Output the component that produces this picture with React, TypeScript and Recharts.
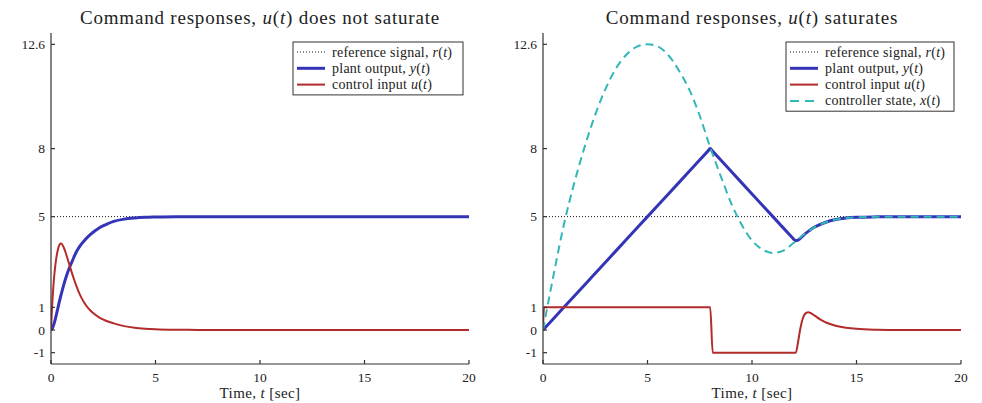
import React from 'react';
import { LineChart, Line, XAxis, YAxis } from 'recharts';

// axis ticks
const xTicks = [0, 5, 10, 15, 20];
const yTicks = [-1, 0, 1, 5, 8, 12.6];

// reference signal r(t)
const refTime = [0, 20];
const refSignal = [5, 5];

// left panel: u(t) does not saturate
const leftTime = [
  0, 0.05, 0.1, 0.15, 0.2, 0.25, 0.3, 0.35, 0.4, 0.45, 0.5, 0.6, 0.7, 0.8, 0.9, 1.0, 1.1, 1.2, 1.3, 1.4,
  1.5, 1.6, 1.8, 2.0, 2.3, 2.6, 3.0, 3.5, 4.0, 4.5, 5, 6, 7, 8, 10, 12, 14, 16, 18, 20,
];
const leftOutput = [
  0, 0.04, 0.15, 0.29, 0.46, 0.65, 0.85, 1.05, 1.25, 1.44, 1.62, 1.96, 2.27, 2.55, 2.79, 3.0, 3.22, 3.42, 3.58, 3.72,
  3.84, 3.95, 4.14, 4.3, 4.5, 4.64, 4.79, 4.89, 4.94, 4.97, 4.985, 5, 5, 5, 5, 5, 5, 5, 5, 5,
];
const leftInput = [
  0, 1.0, 1.75, 2.35, 2.8, 3.15, 3.42, 3.62, 3.75, 3.82, 3.81, 3.66, 3.42, 3.12, 2.82, 2.52, 2.24, 1.98, 1.74, 1.53,
  1.35, 1.19, 0.94, 0.76, 0.56, 0.42, 0.29, 0.17, 0.1, 0.06, 0.035, 0.012, 0.004, 0, 0, 0, 0, 0, 0, 0,
];

// right panel: u(t) saturates
const rightOutputTime = [
  0, 1, 2, 3, 4, 5, 6, 7, 7.9, 8, 8.1, 9, 10, 11, 11.9, 12.0, 12.1, 12.2, 12.3, 12.4,
  12.5, 12.75, 13, 13.5, 14, 14.5, 15, 16, 17, 20,
];
const rightOutput = [
  0, 1, 2, 3, 4, 5, 6, 7, 7.9, 8, 7.9, 7, 6, 5, 4.1, 4.0, 3.94, 3.96, 4.03, 4.12,
  4.21, 4.39, 4.54, 4.74, 4.87, 4.94, 4.97, 4.99, 5, 5,
];
const rightInputTime = [
  0, 0.05, 8.0, 8.12, 12.1, 12.2, 12.3, 12.4, 12.5, 12.6, 12.7, 12.8, 13.0, 13.3, 13.6, 14.0, 14.5, 15, 16, 17, 20,
];
const rightInput = [
  0, 1, 1, -1, -1, -0.55, 0, 0.42, 0.66, 0.76, 0.78, 0.75, 0.63, 0.45, 0.31, 0.19, 0.1, 0.05, 0.012, 0, 0,
];
const rightStateTime = [
  0, 0.5, 1, 1.5, 2, 2.5, 3, 3.5, 4, 4.5, 5, 5.5, 6, 6.5, 7, 7.5, 8, 8.5, 9, 9.5,
  10, 10.5, 11, 11.5, 12, 12.5, 13, 13.5, 14, 14.5, 15, 16, 17, 20,
];
const rightState = [
  0, 2.4, 4.65, 6.5, 8.1, 9.5, 10.65, 11.55, 12.15, 12.5, 12.6, 12.5, 12.12, 11.45, 10.6, 9.45, 8.05, 6.8, 5.6, 4.65,
  3.95, 3.55, 3.4, 3.5, 3.85, 4.22, 4.54, 4.74, 4.87, 4.94, 4.97, 4.99, 5, 5,
];

const zip = (t: number[], v: number[]) => t.map((x, i) => ({ t: x, v: v[i] }));

const FONT = 'Liberation Serif, serif';
const TEXT = '#222';
const AXIS = '#333';
const BLUE = '#3434B6';
const RED = '#B32B2B';
const CYAN = '#33B6B6';

interface Series {
  key: string;
  data: { t: number; v: number }[];
  color: string;
  width: number;
  dash?: string;
}

function Panel({ left, margin, series }: { left: number; margin: any; series: Series[] }) {
  const tickStyle = { fill: TEXT, fontSize: 13.5, fontFamily: FONT };
  return (
    <div style={{ position: 'absolute', left, top: 0 }}>
      <LineChart width={491} height={403} margin={margin} style={{ fontFamily: FONT }}>
        <XAxis
          xAxisId="b"
          dataKey="t"
          type="number"
          domain={[0, 20]}
          ticks={xTicks}
          allowDataOverflow
          height={30}
          tickSize={-4}
          tickMargin={12}
          stroke={AXIS}
          strokeWidth={1.2}
          tick={tickStyle}
        />
        <XAxis
          xAxisId="t"
          orientation="top"
          mirror
          dataKey="t"
          type="number"
          domain={[0, 20]}
          ticks={xTicks}
          allowDataOverflow
          height={0}
          tickSize={4}
          stroke={AXIS}
          strokeWidth={1.2}
          tickFormatter={() => ''}
        />
        <YAxis
          yAxisId="l"
          type="number"
          domain={[-1.5, 13.1]}
          ticks={yTicks}
          allowDataOverflow
          width={40}
          tickSize={-4}
          tickMargin={10}
          stroke={AXIS}
          strokeWidth={1.2}
          tick={tickStyle}
        />
        <YAxis
          yAxisId="r"
          orientation="right"
          mirror
          type="number"
          domain={[-1.5, 13.1]}
          ticks={yTicks}
          allowDataOverflow
          width={0}
          tickSize={4}
          stroke={AXIS}
          strokeWidth={1.2}
          tickFormatter={() => ''}
        />
        {series.map(s => (
          <Line
            key={s.key}
            xAxisId="b"
            yAxisId="l"
            data={s.data}
            dataKey="v"
            type="monotone"
            stroke={s.color}
            strokeWidth={s.width}
            strokeDasharray={s.dash}
            dot={false}
            activeDot={false}
            isAnimationActive={false}
          />
        ))}
      </LineChart>
    </div>
  );
}

const it = (s: string) => <tspan fontStyle="italic">{s}</tspan>;

function LegendBox({ x, y, w, items }: { x: number; y: number; w: number; items: { label: React.ReactNode; color: string; width: number; dash?: string }[] }) {
  const rowH = 16.3;
  const h = items.length * rowH + 4;
  return (
    <g>
      <rect x={x} y={y} width={w} height={h} fill="#fff" stroke={AXIS} strokeWidth={1} />
      {items.map((item, i) => {
        const cy = y + 10 + i * rowH;
        return (
          <g key={i}>
            <line x1={x + 4} x2={x + 32} y1={cy} y2={cy} stroke={item.color} strokeWidth={item.width} strokeDasharray={item.dash} />
            <text x={x + 39} y={cy + 4.5} fontSize={14} fontFamily={FONT} fill={TEXT} letterSpacing={0.25}>
              {item.label}
            </text>
          </g>
        );
      })}
    </g>
  );
}

export default function App() {
  const ref = zip(refTime, refSignal);
  const leftSeries: Series[] = [
    { key: 'r', data: ref, color: '#111', width: 1, dash: '1 2' },
    { key: 'y', data: zip(leftTime, leftOutput), color: BLUE, width: 3 },
    { key: 'u', data: zip(leftTime, leftInput), color: RED, width: 2 },
  ];
  const rightSeries: Series[] = [
    { key: 'r', data: ref, color: '#111', width: 1, dash: '1 2' },
    { key: 'y', data: zip(rightOutputTime, rightOutput), color: BLUE, width: 3 },
    { key: 'u', data: zip(rightInputTime, rightInput), color: RED, width: 2 },
    { key: 'x', data: zip(rightStateTime, rightState), color: CYAN, width: 2, dash: '8 5' },
  ];

  const refItem = { label: <>reference signal, {it('r')}({it('t')})</>, color: '#111', width: 1, dash: '1 2' };
  const yItem = { label: <>plant output, {it('y')}({it('t')})</>, color: BLUE, width: 3 };
  const uItem = { label: <>control input {it('u')}({it('t')})</>, color: RED, width: 2 };
  const xItem = { label: <>controller state, {it('x')}({it('t')})</>, color: CYAN, width: 2, dash: '9 6' };

  return (
    <div style={{ position: 'absolute', left: 0, top: 0, width: 982, height: 403, background: '#fff', fontFamily: FONT }}>
      <Panel left={0} margin={{ top: 33, right: 22, bottom: 9, left: 11 }} series={leftSeries} />
      <Panel left={491} margin={{ top: 33, right: 21, bottom: 9, left: 12 }} series={rightSeries} />
      <svg width={982} height={403} style={{ position: 'absolute', left: 0, top: 0, pointerEvents: 'none' }}>
        <text x={260} y={24} textAnchor="middle" fontSize={19} fontFamily={FONT} fill={TEXT} letterSpacing={0.8}>
          Command responses, {it('u')}({it('t')}) does not saturate
        </text>
        <text x={752} y={24} textAnchor="middle" fontSize={19} fontFamily={FONT} fill={TEXT} letterSpacing={0.8}>
          Command responses, {it('u')}({it('t')}) saturates
        </text>
        <text x={260} y={398} textAnchor="middle" fontSize={15} fontFamily={FONT} fill={TEXT} letterSpacing={0.4}>
          Time, {it('t')} [sec]
        </text>
        <text x={752} y={398} textAnchor="middle" fontSize={15} fontFamily={FONT} fill={TEXT} letterSpacing={0.4}>
          Time, {it('t')} [sec]
        </text>
        <LegendBox x={293} y={42} w={170} items={[refItem, yItem, uItem]} />
        <LegendBox x={786} y={42} w={168} items={[refItem, yItem, uItem, xItem]} />
      </svg>
    </div>
  );
}
